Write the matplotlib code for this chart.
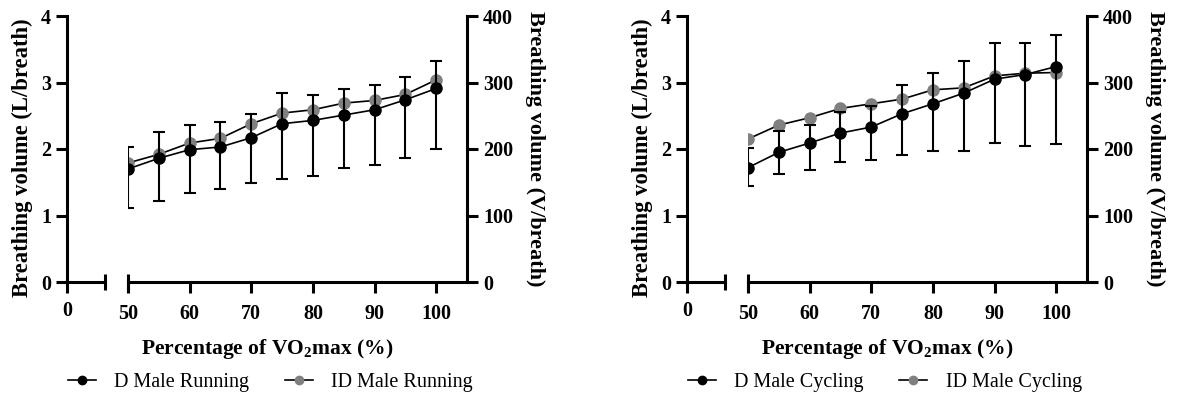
import matplotlib
matplotlib.use('Agg')
import matplotlib.pyplot as plt
import numpy as np

plt.rcParams['font.family'] = ['Liberation Serif', 'DejaVu Serif']
plt.rcParams['mathtext.fontset'] = 'custom'
plt.rcParams['mathtext.bf'] = 'Liberation Serif:bold'
plt.rcParams['xtick.labelsize'] = 14.5
plt.rcParams['ytick.labelsize'] = 14.5

# Data
######
pct = [50, 55, 60, 65, 70, 75, 80, 85, 90, 95, 100]

run_d = [1.70, 1.86, 1.99, 2.03, 2.17, 2.38, 2.43, 2.51, 2.59, 2.74, 2.91]
run_id = [1.79, 1.92, 2.09, 2.16, 2.38, 2.54, 2.59, 2.69, 2.73, 2.82, 3.04]
run_lo = [1.11, 1.22, 1.34, 1.40, 1.49, 1.55, 1.60, 1.72, 1.76, 1.87, 2.00]
run_hi = [2.03, 2.26, 2.36, 2.41, 2.53, 2.84, 2.81, 2.90, 2.96, 3.09, 3.33]

cyc_d = [1.72, 1.95, 2.09, 2.24, 2.33, 2.53, 2.68, 2.84, 3.05, 3.12, 3.24]
cyc_id = [2.15, 2.36, 2.47, 2.61, 2.68, 2.75, 2.89, 2.92, 3.10, 3.14, 3.15]
cyc_lo = [1.44, 1.63, 1.69, 1.81, 1.83, 1.91, 1.97, 1.97, 2.09, 2.05, 2.07]
cyc_hi = [2.02, 2.27, 2.36, 2.55, 2.64, 2.96, 3.15, 3.32, 3.59, 3.59, 3.71]

left_ticks = [0, 1, 2, 3, 4]
right_ticks = [0, 100, 200, 300, 400]
x_ticks = [50, 60, 70, 80, 90, 100]

W, H = 1177, 398
fig = plt.figure(figsize=(W / 100, H / 100), dpi=100)

bottom = (H - 282) / H
height = (282 - 16) / H
SPW = 2.2
tick_kw = dict(width=SPW, length=8)


def draw_panel(x0, d, idv, lo, hi, name):
    # short segment holding the 0 of the broken x axis
    ax_a = fig.add_axes([x0 / W, bottom, 38 / W, height])
    ax_b = fig.add_axes([(x0 + 61) / W, bottom, 339 / W, height])
    ax_r = ax_b.twinx()

    ax_a.set_xlim(0, 1)
    ax_a.set_ylim(0, 4)
    ax_a.set_yticks(left_ticks)
    ax_a.set_xticks([0])
    ax_a.set_xticklabels(['0'])
    for s in ['top', 'right']:
        ax_a.spines[s].set_visible(False)
    for s in ['left', 'bottom']:
        ax_a.spines[s].set_linewidth(SPW)
    ax_a.tick_params(**tick_kw)
    ax_a.tick_params(axis='x', pad=5.5)
    for lab in ax_a.get_xticklabels() + ax_a.get_yticklabels():
        lab.set_fontweight('bold')
    ax_a.plot([1], [0], marker='|', ms=11, mew=SPW, color='k',
              transform=ax_a.transAxes, clip_on=False)
    ax_a.set_ylabel('Breathing volume (L/breath)', fontsize=16.3,
                    fontweight='bold')
    ax_a.yaxis.set_label_coords(-0.895, 0.468)

    ln_id, = ax_b.plot(pct, idv, color='k', lw=1.2, marker='o', ms=8,
                       mfc='#808080', mec='#808080', zorder=3)
    eb = ax_b.errorbar(pct, d, yerr=[np.array(d) - np.array(lo), np.array(hi) - np.array(d)],
                       color='k', lw=1.2, marker='o', ms=8, mfc='k', mec='k',
                       elinewidth=1.5, capsize=4.5, capthick=1.5, zorder=4)
    ax_b.set_xlim(50, 105)
    ax_b.set_ylim(0, 4)
    ax_b.set_xticks(x_ticks)
    ax_b.set_yticks([])
    for s in ['top', 'right', 'left']:
        ax_b.spines[s].set_visible(False)
    ax_b.spines['bottom'].set_linewidth(SPW)
    ax_b.tick_params(**tick_kw)
    ax_b.tick_params(axis='x', pad=8)
    for lab in ax_b.get_xticklabels():
        lab.set_fontweight('bold')
    ax_b.plot([0], [0], marker='|', ms=11, mew=SPW, color='k',
              transform=ax_b.transAxes, clip_on=False)

    ax_r.set_ylim(0, 400)
    ax_r.set_yticks(right_ticks)
    for s in ['top', 'left', 'bottom']:
        ax_r.spines[s].set_visible(False)
    ax_r.spines['right'].set_linewidth(SPW)
    ax_r.tick_params(**tick_kw)
    for lab in ax_r.get_yticklabels():
        lab.set_fontweight('bold')
    ax_r.set_ylabel('Breathing volume (V/breath)', fontsize=16,
                    fontweight='bold', rotation=270, va='center')
    ax_r.yaxis.set_label_coords(1.2, 0.5)

    fig.text((x0 + 200) / W, (H - 349) / H, r'Percentage of VO$_\mathbf{2}$max (%)',
             ha='center', va='center', fontsize=15.5, fontweight='bold')

    fig.legend([eb[0], ln_id], ['D Male ' + name, 'ID Male ' + name],
               loc='center left', bbox_to_anchor=((x0 - 17) / W, (H - 382) / H),
               ncol=2, frameon=False, fontsize=14.5, handlelength=1.4,
               handletextpad=0.9, columnspacing=1.75, markerscale=0.75)


draw_panel(67, run_d, run_id, run_lo, run_hi, 'Running')
draw_panel(687, cyc_d, cyc_id, cyc_lo, cyc_hi, 'Cycling')

plt.savefig('out.png', dpi=100)
